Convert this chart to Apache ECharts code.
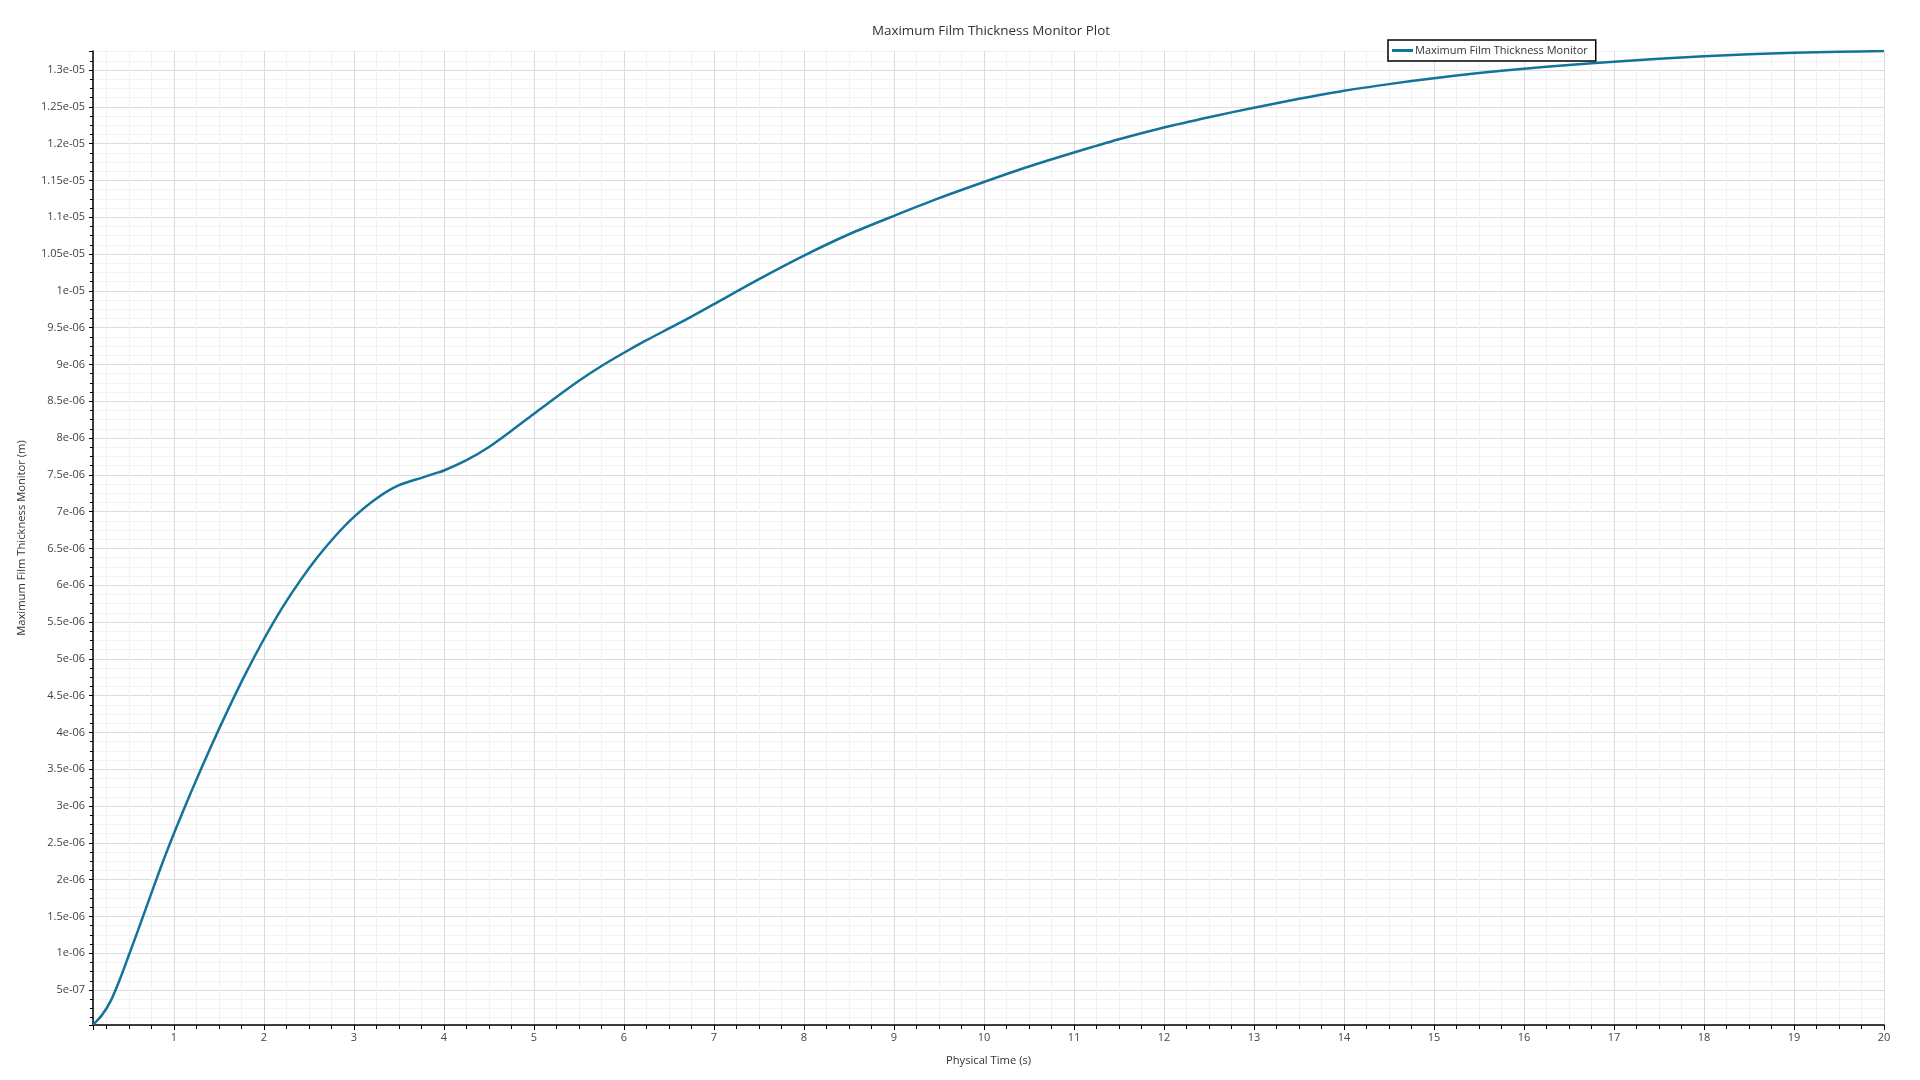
<!DOCTYPE html>
<html>
<head>
<meta charset="utf-8">
<title>Maximum Film Thickness Monitor Plot</title>
<script src="https://cdn.jsdelivr.net/npm/echarts@6/dist/echarts.min.js"></script>
<style>
  html, body { margin: 0; padding: 0; background: #fff; }
  #chart { width: 1920px; height: 1080px; }
</style>
</head>
<body>
<div id="chart"></div>
<script>
// physical time (s)
var time = [0.1, 0.2, 0.3, 0.4, 0.5, 0.6, 0.7, 0.8, 0.9, 1.0,
    1.2, 1.4, 1.6, 1.8, 2.0, 2.2, 2.4, 2.6, 2.8, 3.0,
    3.25, 3.5, 3.75, 3.9, 4.0, 4.25, 4.5, 4.75, 5.0, 5.25,
    5.5, 5.75, 6.0, 6.25, 6.5, 6.75, 7.0, 7.5, 8, 8.5,
    9, 9.5, 10, 10.5, 11, 11.5, 12, 12.5, 13, 13.5,
    14, 14.5, 15, 15.5, 16, 16.5, 17, 17.5, 18, 18.5,
    19, 19.5, 20];

// maximum film thickness, micrometres (scaled to metres below)
var thicknessUm = [0.025, 0.16, 0.36, 0.65, 0.98, 1.31, 1.65, 1.99, 2.32, 2.63,
    3.22, 3.78, 4.31, 4.81, 5.27, 5.69, 6.06, 6.39, 6.68, 6.93,
    7.18, 7.36, 7.46, 7.52, 7.56, 7.70, 7.88, 8.10, 8.33, 8.56,
    8.78, 8.98, 9.16, 9.33, 9.49, 9.65, 9.82, 10.16, 10.48, 10.77,
    11.02, 11.26, 11.48, 11.69, 11.88, 12.06, 12.22, 12.36, 12.49, 12.61,
    12.72, 12.81, 12.89, 12.96, 13.02, 13.07, 13.115, 13.155, 13.19, 13.215,
    13.235, 13.25, 13.26];

var seriesName = 'Maximum Film Thickness Monitor';

var points = time.map(function (t, i) {
    return [t, thicknessUm[i] * 1e-6];
});

function expLabel(v) {
    var s = Number(v.toPrecision(6)).toExponential();
    return s.replace(/e([+-])(\d)$/, 'e$10$2');
}

var font = 'Open Sans';
var chart = echarts.init(document.getElementById('chart'));

var option = {
    animation: false,
    backgroundColor: '#fff',
    title: {
        text: 'Maximum Film Thickness Monitor Plot',
        left: 867,
        top: 20,
        textStyle: {
            fontFamily: font,
            fontSize: 13.4,
            fontWeight: 'normal',
            color: '#333'
        }
    },
    legend: {
        data: [seriesName],
        left: 1388,
        top: 40,
        icon: 'rect',
        padding: [5, 8, 5, 4],
        itemWidth: 21,
        itemHeight: 3,
        borderColor: '#000',
        borderWidth: 1.5,
        backgroundColor: '#fff',
        textStyle: {
            fontFamily: font,
            fontSize: 11,
            color: '#333',
            padding: [0, 0, 0, -3]
        }
    },
    grid: {
        left: 93,
        right: 36,
        top: 51,
        bottom: 55
    },
    xAxis: {
        type: 'value',
        min: 'dataMin',
        max: 'dataMax',
        splitNumber: 20,
        minInterval: 1,
        maxInterval: 1,
        name: 'Physical Time (s)',
        nameLocation: 'middle',
        nameGap: 30,
        nameTextStyle: { fontFamily: font, fontSize: 11.2, color: '#333' },
        axisLine: { lineStyle: { color: '#000', width: 1.5 } },
        axisTick: { length: 5, lineStyle: { color: '#000', width: 1 } },
        minorTick: { show: true, splitNumber: 4, length: 4, lineStyle: { color: '#000', width: 1 } },
        axisLabel: {
            showMinLabel: false,
            margin: 7,
            fontFamily: font,
            fontSize: 11,
            color: '#444'
        },
        splitLine: { show: true, lineStyle: { color: '#dcdcdc', width: 1 } },
        minorSplitLine: { show: true, lineStyle: { color: '#f2f2f2', width: 1 } }
    },
    yAxis: {
        type: 'value',
        min: 'dataMin',
        max: 'dataMax',
        splitNumber: 26,
        minInterval: 5e-7,
        maxInterval: 5e-7,
        name: 'Maximum Film Thickness Monitor (m)',
        nameLocation: 'middle',
        nameGap: 66,
        nameTextStyle: { fontFamily: font, fontSize: 11.2, color: '#333' },
        axisLine: { show: true, lineStyle: { color: '#000', width: 1.5 } },
        axisTick: { show: true, length: 4, lineStyle: { color: '#000', width: 1 } },
        minorTick: { show: true, splitNumber: 4, length: 3, lineStyle: { color: '#000', width: 1 } },
        axisLabel: {
            showMinLabel: false,
            showMaxLabel: false,
            margin: 8,
            fontFamily: font,
            fontSize: 11,
            color: '#444',
            formatter: expLabel
        },
        splitLine: { show: true, lineStyle: { color: '#dcdcdc', width: 1 } },
        minorSplitLine: { show: true, lineStyle: { color: '#f2f2f2', width: 1 } }
    },
    series: [{
        name: seriesName,
        type: 'line',
        data: points,
        symbol: 'none',
        smooth: 0.25,
        lineStyle: { color: '#14739a', width: 2.5 },
        itemStyle: { color: '#14739a' }
    }]
};

chart.setOption(option);
</script>
</body>
</html>
